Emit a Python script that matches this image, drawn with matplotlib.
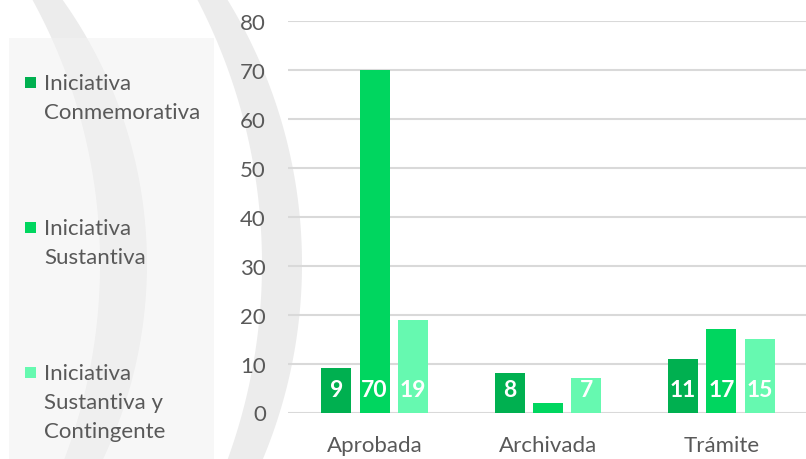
import numpy as np
import matplotlib
matplotlib.use("Agg")
import matplotlib.pyplot as plt
from matplotlib.patches import Polygon, Rectangle

# datos
categorias = ["Aprobada", "Archivada", "Trámite"]
series = ["Iniciativa\nConmemorativa", "Iniciativa\nSustantiva", "Iniciativa\nSustantiva y\nContingente"]
conmemorativa = [9, 8, 11]
sustantiva = [70, 2, 17]
sust_contingente = [19, 7, 15]
valores = [conmemorativa, sustantiva, sust_contingente]
colores = ["#00B050", "#00D65F", "#66F9B0"]
yticks = [0, 10, 20, 30, 40, 50, 60, 70, 80]

plt.rcParams['font.family'] = ['Lato', 'DejaVu Sans']
gris = "#595959"

W, H = 806, 460
fig = plt.figure(figsize=(W / 100, H / 100), dpi=100)

# fondo: arcos grises y caja de la leyenda (en pixeles)
bg = fig.add_axes([0, 0, 1, 1], zorder=-1)
bg.set_xlim(0, W)
bg.set_ylim(H, 0)
bg.axis("off")

def banda(c_out, r_out, c_in, r_in, cy):
    ys = np.linspace(-20, H + 20, 200)
    xo = c_out + np.sqrt(r_out**2 - (ys - cy)**2)
    xi = c_in + np.sqrt(r_in**2 - (ys - cy)**2)
    pts = np.vstack([np.column_stack([xo, ys]), np.column_stack([xi[::-1], ys[::-1]])])
    return Polygon(pts, closed=True, facecolor="#ECECEC", edgecolor="none")

bg.add_patch(banda(-308.6, 455.6, -450.4, 550.4, 265))
bg.add_patch(banda(-203.7, 505.7, -310.7, 572.7, 265))
bg.add_patch(Rectangle((9, 39), 205, 430, facecolor="#F2F2F2", alpha=0.55, edgecolor="none"))

# leyenda
for i, (nombre, col) in enumerate(zip(series, colores)):
    y0 = 83 + i * 145
    bg.add_patch(Rectangle((25, y0 - 5), 11, 11, facecolor=col, edgecolor="none"))
    bg.text(44, y0 - 9, nombre, fontsize=16, color=gris, va="top", ha="left",
            linespacing=1.55)

# grafico de barras
ax = fig.add_axes([288 / W, (H - 413.5) / H, 520 / W, (413.5 - 22) / H])
ax.set_facecolor("none")
x = np.arange(len(categorias))
ancho = 0.173
paso = 0.222
for i, (vals, col) in enumerate(zip(valores, colores)):
    pos = x + (i - 1) * paso
    ax.bar(pos, vals, width=ancho, color=col, zorder=3)
    for px, v in zip(pos, vals):
        if v >= 5:
            ax.annotate(str(v), (px, 0), xytext=(0, 12), textcoords="offset points",
                        ha="center", va="baseline", color="white", fontsize=16.5,
                        fontweight="bold", zorder=4)

ax.set_xlim(-0.5, 2.5)
ax.set_ylim(0, 80)
ax.set_yticks(yticks)
ax.set_xticks(x)
ax.set_xticklabels(categorias)
ax.grid(axis="y", color="#D9D9D9", linewidth=1.5, zorder=0)
for s in ax.spines.values():
    s.set_visible(False)
ax.tick_params(axis="both", length=0, labelsize=16, labelcolor=gris)
ax.tick_params(axis="y", pad=16)
ax.tick_params(axis="x", pad=16)

fig.savefig("out.png", dpi=100)
